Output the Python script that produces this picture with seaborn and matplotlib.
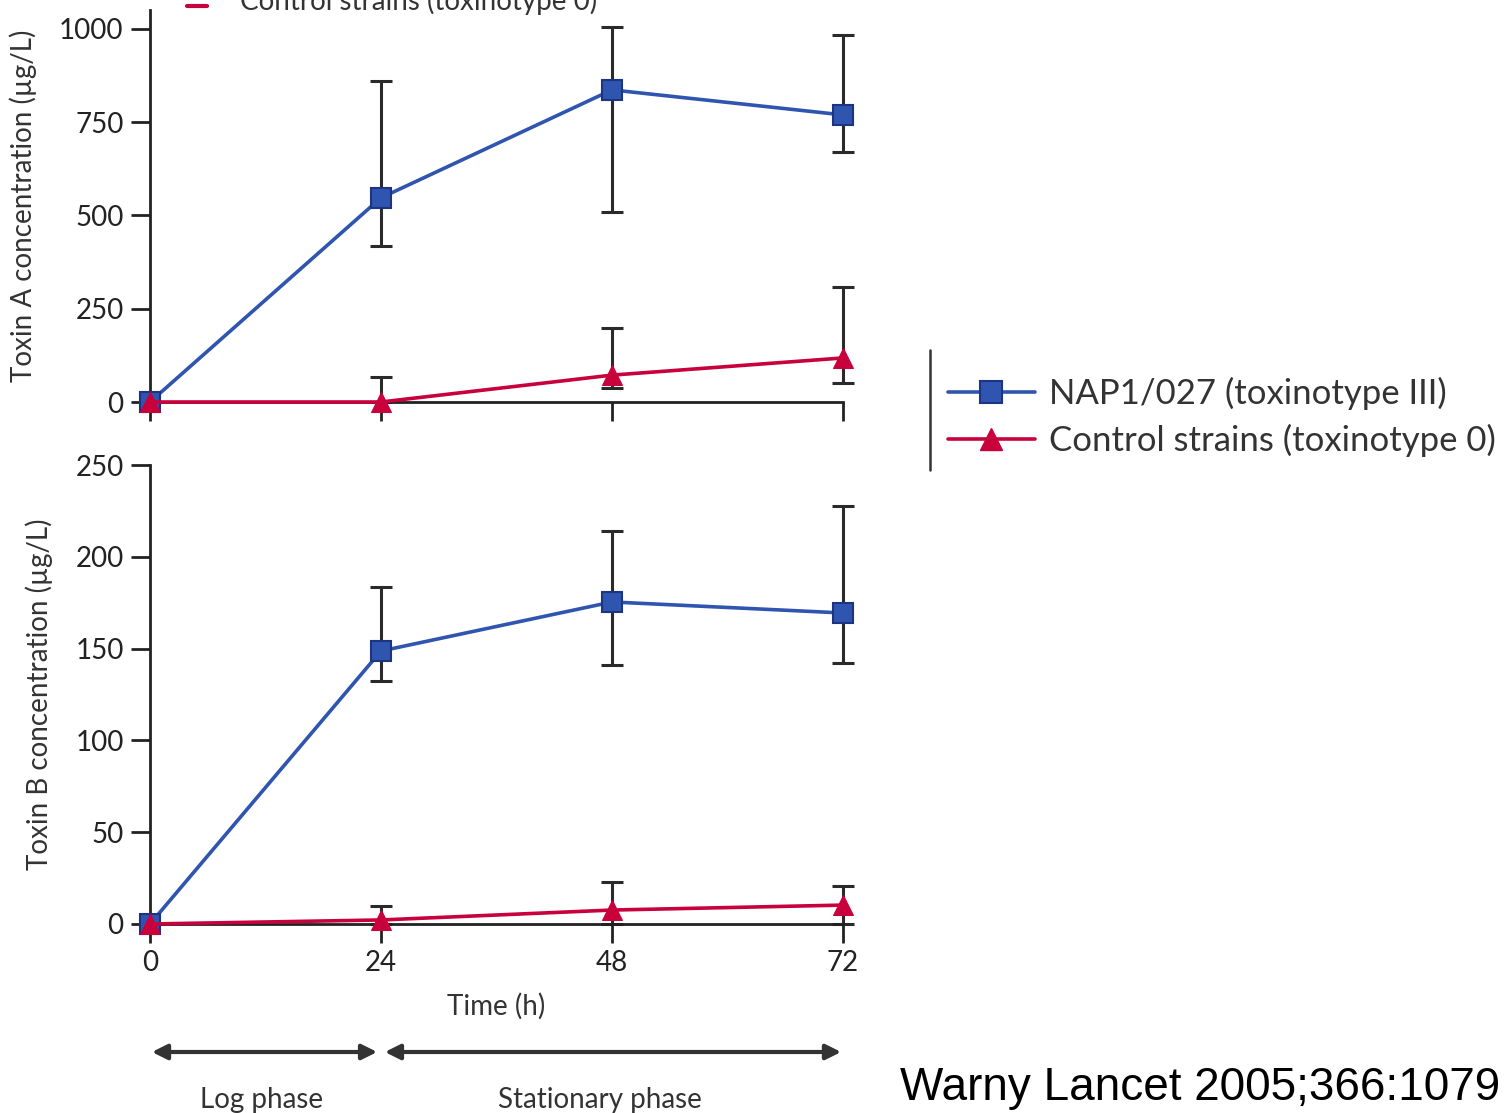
import numpy as np
import pandas as pd
import matplotlib
matplotlib.use("Agg")
import matplotlib.pyplot as plt
import matplotlib.transforms as mtransforms
from matplotlib.lines import Line2D
import seaborn as sns

# data
hours = [0, 24, 48, 72]
strains = ["NAP1/027 (toxinotype III)", "Control strains (toxinotype 0)"]

toxA_nap = [0, 547, 836, 769]
toxA_nap_lo = [0, 418, 509, 670]
toxA_nap_hi = [0, 861, 1005, 984]
toxA_ctl = [0, 0, 72, 118]
toxA_ctl_lo = [0, 0, 37, 51]
toxA_ctl_hi = [0, 67, 198, 308]

toxB_nap = [0, 148.7, 175.4, 169.4]
toxB_nap_lo = [0, 132.4, 141.0, 142.2]
toxB_nap_hi = [0, 183.6, 214.0, 227.7]
toxB_ctl = [0, 2.2, 7.6, 10.3]
toxB_ctl_lo = [0, 0, 0, 0]
toxB_ctl_hi = [0, 9.8, 22.9, 20.7]

yticks_a = [0, 250, 500, 750, 1000]
yticks_b = [0, 50, 100, 150, 200, 250]

blue = "#2f55b0"
blue_edge = "#1d3580"
red = "#c8003c"
font = ["Lato", "DejaVu Sans"]

sns.set_style("ticks")
plt.rcParams["font.family"] = font
plt.rcParams["text.color"] = "#333333"
plt.rcParams["axes.labelcolor"] = "#333333"
plt.rcParams["xtick.color"] = "#222222"
plt.rcParams["ytick.color"] = "#222222"

W, H = 1505, 1113
fig = plt.figure(figsize=(W / 100, H / 100), dpi=100)

# axes placed in pixel terms
def px_axes(left, top, right, bottom):
    return fig.add_axes([left / W, 1 - bottom / H, (right - left) / W, (bottom - top) / H])

ax_a = px_axes(150, 10, 843, 402)
ax_b = px_axes(150, 465, 843, 924)

palette = {strains[0]: blue, strains[1]: red}
markers = {strains[0]: "s", strains[1]: "^"}


def draw(ax, nap, nap_lo, nap_hi, ctl, ctl_lo, ctl_hi):
    df = pd.DataFrame({
        "Time": hours * 2,
        "Conc": nap + ctl,
        "Strain": [strains[0]] * 4 + [strains[1]] * 4,
    })
    for vals, lo, hi in [(nap, nap_lo, nap_hi), (ctl, ctl_lo, ctl_hi)]:
        v = np.array(vals)
        ax.errorbar(hours, v, yerr=[v - np.array(lo), np.array(hi) - v], fmt="none",
                    ecolor="#2a2a2a", elinewidth=2.2, capsize=8, capthick=2.2,
                    clip_on=False, zorder=2)
    sns.lineplot(data=df, x="Time", y="Conc", hue="Strain", style="Strain",
                 palette=palette, markers=markers, dashes=False, lw=2.6,
                 markersize=14, legend=False, ax=ax, zorder=3)
    for ln in ax.lines:
        ln.set_clip_on(False)
        if ln.get_marker() == "s":
            ln.set_markeredgecolor(blue_edge)
            ln.set_markeredgewidth(1.5)
        elif ln.get_marker() == "^":
            ln.set_markeredgecolor(red)
    sns.despine(ax=ax)
    ax.set_xlim(0, 72)
    ax.set_xticks(hours)
    for s in ["left", "bottom"]:
        ax.spines[s].set_linewidth(2)
        ax.spines[s].set_color("#222222")
    ax.tick_params(length=14, width=2, labelsize=20, pad=5)


draw(ax_a, toxA_nap, toxA_nap_lo, toxA_nap_hi, toxA_ctl, toxA_ctl_lo, toxA_ctl_hi)
ax_a.set_ylim(0, 1050)
ax_a.set_yticks(yticks_a)
ax_a.set_xticklabels([])
ax_a.set_xlabel("")
ax_a.set_ylabel("Toxin A concentration (µg/L)", fontsize=20, labelpad=16)

draw(ax_b, toxB_nap, toxB_nap_lo, toxB_nap_hi, toxB_ctl, toxB_ctl_lo, toxB_ctl_hi)
ax_b.set_ylim(0, 250)
ax_b.set_yticks(yticks_b)
ax_b.set_xlabel("Time (h)", fontsize=20, labelpad=12)
ax_b.set_ylabel("Toxin B concentration (µg/L)", fontsize=20, labelpad=16)

# legend on the right with a vertical rule
handles = [
    Line2D([], [], color=blue, lw=2.6, marker="s", markersize=16,
           markeredgecolor=blue_edge, markeredgewidth=1.5),
    Line2D([], [], color=red, lw=2.6, marker="^", markersize=16, markeredgecolor=red),
]
fig.legend(handles, strains, loc="center left", bbox_to_anchor=(948 / W, 1 - 417 / H),
           frameon=False, fontsize=25, handlelength=2.5, handletextpad=0.4,
           labelspacing=0.4, borderaxespad=0, borderpad=0)
fig.add_artist(Line2D([930 / W, 930 / W], [1 - 350 / H, 1 - 470 / H],
                      color="#333333", lw=1.8))

# cut-off legend remnant at the very top (the source image is cropped here)
fig.add_artist(Line2D([187 / W, 207 / W], [1 - 6 / H, 1 - 6 / H], color=red, lw=3))
fig.text(240 / W, 1 - 1 / H, strains[1], fontsize=20, va="center", ha="left")

# growth phase arrows under the time axis
trans = mtransforms.blended_transform_factory(ax_b.transData, fig.transFigure)
arrow_y = 1 - 1052 / H
for x0, x1 in [(0.2, 23.6), (24.4, 71.8)]:
    ax_b.annotate("", xy=(x1, arrow_y), xytext=(x0, arrow_y), xycoords=trans,
                  textcoords=trans, annotation_clip=False,
                  arrowprops=dict(arrowstyle="<|-|>,head_length=0.9,head_width=0.45",
                                  color="#333333", lw=3, shrinkA=0, shrinkB=0))
fig.text(262 / W, 1 - 1100 / H, "Log phase", fontsize=20, ha="center", va="center")
fig.text(600 / W, 1 - 1100 / H, "Stationary phase", fontsize=20, ha="center", va="center")

fig.text(900 / W, 1 - 1088 / H, "Warny Lancet 2005;366:1079", fontsize=33,
         family=["Liberation Sans", "DejaVu Sans"], color="black", ha="left", va="center")

fig.savefig("out.png", dpi=100)
